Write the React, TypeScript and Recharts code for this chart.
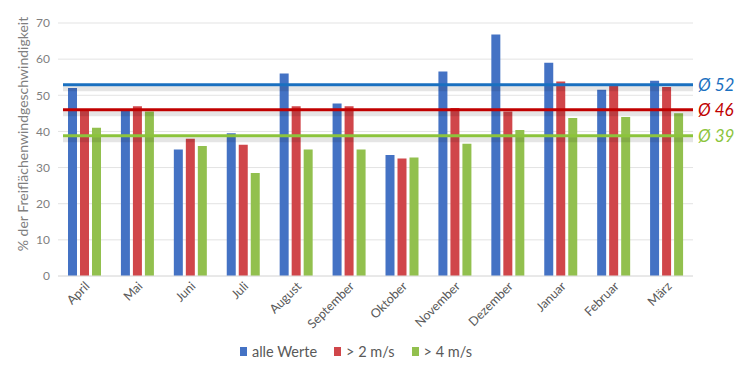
import React from 'react';
import { BarChart, Bar, XAxis, YAxis, CartesianGrid, ReferenceLine, Legend } from 'recharts';

const months = ['April', 'Mai', 'Juni', 'Juli', 'August', 'September', 'Oktober', 'November', 'Dezember', 'Januar', 'Februar', 'März'];
const alleWerte = [52, 46, 35, 39.5, 56, 47.7, 33.5, 56.6, 66.8, 59, 51.5, 54];
const ueber2 = [46, 47, 38, 36.3, 47, 47, 32.5, 46.5, 45.5, 53.8, 52.6, 52.3];
const ueber4 = [41, 45.5, 36, 28.5, 35, 35, 32.8, 36.6, 40.4, 43.7, 44, 45];
const yTicks = [0, 10, 20, 30, 40, 50, 60, 70];
const averages = [
  { key: 'alle', value: 52.9, label: 'Ø 52', color: '#1a70c0' },
  { key: 'gt2', value: 46, label: 'Ø 46', color: '#c00000' },
  { key: 'gt4', value: 38.8, label: 'Ø 39', color: '#8cc43c' },
];
const seriesNames = ['alle Werte', '> 2 m/s', '> 4 m/s'];
const seriesColors = ['#4472c4', '#d0464a', '#92c04e'];

const data = months.map((m, i) => ({ month: m, a: alleWerte[i], b: ueber2[i], c: ueber4[i] }));

const FONT = 'Lato, "Open Sans", sans-serif';

const XTick = (props: any) => {
  const { x, y, payload } = props;
  return (
    <g transform={`translate(${x + 6},${y + 3})`}>
      <text textAnchor="end" transform="rotate(-45)" fontSize={12.5} fill="#595959" fontFamily={FONT}>
        {payload.value}
      </text>
    </g>
  );
};

const makeShape = (color: string) => (props: any) => {
  const { x1, y1, x2, y2 } = props;
  const sx = x1 + 5;
  return (
    <g>
      <line x1={sx} y1={y1 + 4} x2={x2} y2={y2 + 4} stroke="#000" strokeOpacity={0.1} strokeWidth={5} />
      <line x1={sx} y1={y1} x2={x2} y2={y2} stroke={color} strokeWidth={3} />
    </g>
  );
};

const LegendContent = () => (
  <div style={{ display: 'flex', justifyContent: 'center', alignItems: 'center', height: 20, fontFamily: FONT, fontSize: 14.5, color: '#595959', paddingLeft: 36, paddingRight: 0 }}>
    {seriesNames.map((n, i) => (
      <span key={n} style={{ display: 'flex', alignItems: 'center', marginRight: 17 }}>
        <span style={{ width: 7, height: 9, background: seriesColors[i], display: 'inline-block', marginRight: 5 }} />
        {n}
      </span>
    ))}
  </div>
);

export default function App() {
  return (
    <div style={{ position: 'absolute', left: 0, top: 0, background: '#fff' }}>
      <BarChart width={740} height={369} data={data} margin={{ top: 23, right: 47, left: 0, bottom: 8 }} barSize={9} barGap={3}>
        <CartesianGrid vertical={false} stroke="#e3e3e3" />
        <XAxis dataKey="month" tick={<XTick />} tickLine={false} axisLine={{ stroke: '#e0e0e0' }} height={65} interval={0} />
        <YAxis
          domain={[0, 70]}
          ticks={yTicks}
          width={58}
          tickLine={false}
          axisLine={false}
          tick={{ fontSize: 12, fill: '#7f7f7f', fontFamily: FONT }}
          label={{
            content: () => {
              const cy = 134;
              return (
                <text x={22} y={cy} transform={`rotate(-90, 22, ${cy})`} textAnchor="middle" dominantBaseline="central" fontSize={14} fill="#7f7f7f" fontFamily={FONT}>
                  % der Freiflächenwindgeschwindigkeit
                </text>
              );
            },
          }}
        />
        <Legend verticalAlign="bottom" height={20} content={<LegendContent />} />
        <Bar dataKey="a" name={seriesNames[0]} fill={seriesColors[0]} isAnimationActive={false} />
        <Bar dataKey="b" name={seriesNames[1]} fill={seriesColors[1]} isAnimationActive={false} />
        <Bar dataKey="c" name={seriesNames[2]} fill={seriesColors[2]} isAnimationActive={false} />
        {averages.map((av) => (
          <ReferenceLine
            key={av.key}
            y={av.value}
            shape={makeShape(av.color)}
            label={{ value: av.label, position: 'right', fill: av.color, fontSize: 17, fontStyle: 'italic', fontFamily: FONT, offset: 5 }}
          />
        ))}
      </BarChart>
    </div>
  );
}
